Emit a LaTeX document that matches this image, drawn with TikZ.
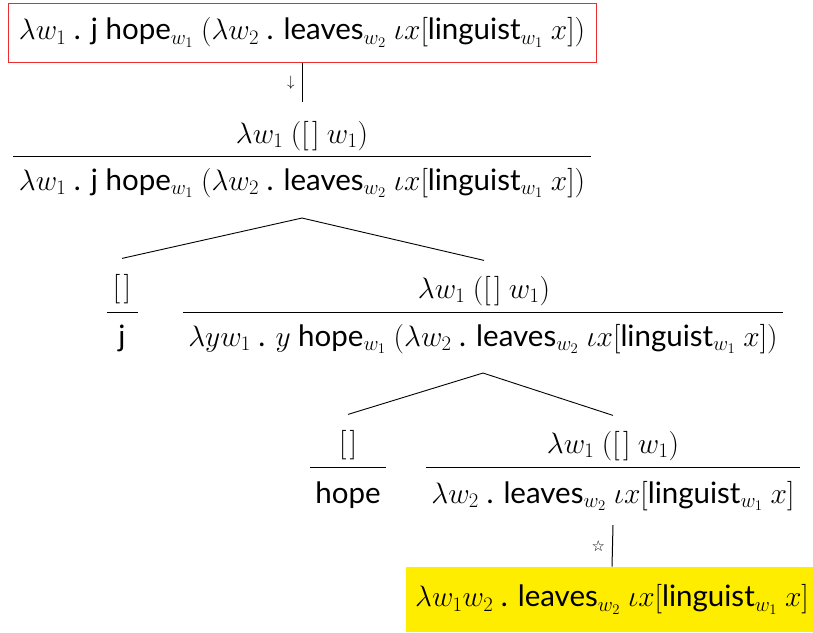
\documentclass[tikz,border=0pt]{standalone}
\usepackage{fix-cm}
\usepackage{fontspec}
\setmainfont{Lato}
\newfontfamily\starfont{DejaVu Sans}
\usetikzlibrary{positioning}
\definecolor{boxred}{RGB}{236,45,45}
\definecolor{hlyellow}{RGB}{255,237,0}

\tikzset{
	sem/.style={inner sep=5pt,anchor=base,font=\fontsize{29.5}{35}\selectfont},
	bar/.style={line width=1pt},
	tree/.style={line width=0.9pt},
	mark label/.style={font=\fontsize{15}{17}\selectfont,inner sep=7pt}
}
\newcommand{\gap}{[\mkern2mu]}

\begin{document}
\begin{tikzpicture}[x=1pt,y=-1pt,line width=1pt]
	\useasboundingbox (0,0) rectangle (813,632);
	\node[sem,anchor=center,draw=boxred,minimum width=588,minimum height=59] (start) at (302,32.5) {$\lambda w_1$ . j hope$_{w_1}$ $(\lambda w_2$ . leaves$_{w_2}$ $\iota x[$linguist$_{w_1}$ $x])$};
	\node[sem] (top0) at (302,143) {$\lambda w_1\ (\gap\ w_1)$};
	\node[sem] (bot0) at (302,190) {$\lambda w_1$ . j hope$_{w_1}$ $(\lambda w_2$ . leaves$_{w_2}$ $\iota x[$linguist$_{w_1}$ $x])$};
	\draw[bar] (bot0.west |- 0,156) -- (bot0.east |- 0,156);
	\draw (start.south) -- node[left,mark label] {$\downarrow$} ([yshift=13pt]top0.north);
	% first split
	\node[sem,minimum width=30] (sub) at (122,296) {$\gap$};
	\node[sem,minimum width=30] (subj) at (122,346) {j};
	\draw[bar] (sub.west |- 0,312) -- (sub.east |- 0,312);
	\node[sem] (top1) at (484,298) {$\lambda w_1\ (\gap\ w_1)$};
	\node[sem] (bot1) at (483,346) {$\lambda y w_1$ . $y$ hope$_{w_1}$ $(\lambda w_2$ . leaves$_{w_2}$ $\iota x[$linguist$_{w_1}$ $x])$};
	\draw[bar] (bot1.west |- 0,312) -- (bot1.east |- 0,312);
	\draw[tree] ([yshift=-15pt]bot0.south) -- ([yshift=10pt]sub.north);
	\draw[tree] ([yshift=-15pt]bot0.south) -- ([yshift=10pt]top1.north);
	% second split
	\node[sem] (verb) at (348,452) {$\gap$};
	\node[sem] (hope) at (348,503) {hope};
	\draw[bar] (hope.west |- 0,467) -- (hope.east |- 0,467);
	\node[sem] (top2) at (613,453) {$\lambda w_1\ (\gap\ w_1)$};
	\node[sem] (bot2) at (613,503) {$\lambda w_2$ . leaves$_{w_2}$ $\iota x[$linguist$_{w_1}$ $x]$};
	\draw[bar] (bot2.west |- 0,467) -- (bot2.east |- 0,467);
	\draw[tree] ([yshift=-14pt]bot1.south) -- ([yshift=10pt]verb.north);
	\draw[tree] ([yshift=-14pt]bot1.south) -- ([yshift=10pt]top2.north);
	% result
	\node[sem,anchor=center,fill=hlyellow,minimum width=412,minimum height=65] (result) at (612,599.5) {$\lambda w_1 w_2$ . leaves$_{w_2}$ $\iota x[$linguist$_{w_1}$ $x]$};
	\draw ([yshift=-9pt]bot2.south) -- node[left,mark label] {\starfont ☆} (result.north);
\end{tikzpicture}
\end{document}
